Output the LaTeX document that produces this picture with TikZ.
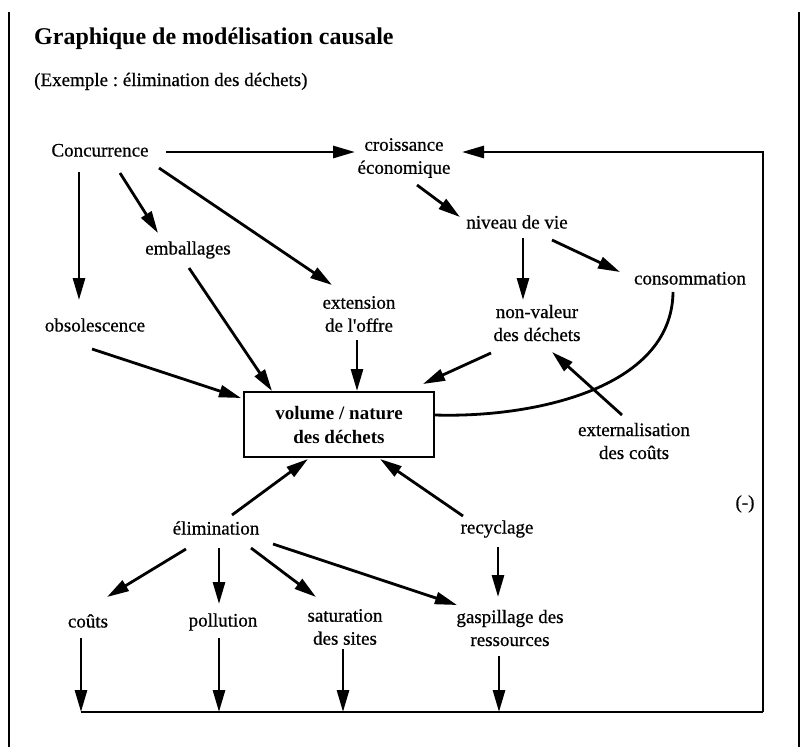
\documentclass[tikz,border=0pt]{standalone}
\usepackage{fontspec}
\setmainfont{Liberation Serif}
\newfontfamily\scanfont{Liberation Serif}[FakeBold=0.6]
\usetikzlibrary{arrows.meta}
\frenchspacing
\begin{document}
\begin{tikzpicture}[x=1pt,y=-1pt,
  lbl/.style={inner sep=0pt, font=\scanfont\fontsize{19}{23}\selectfont, align=center},
  one/.style={text height=13pt, text depth=4pt},
  arr/.style={line width=2.8pt, -{Triangle[length=22pt,width=12pt]}},
  ln/.style={line width=2.8pt},
  frame/.style={line width=1.8pt}]
\useasboundingbox (0,0) rectangle (810,747);
\fill[white] (0,0) rectangle (810,747);
\draw[frame] (9,12) -- (9,747);
\draw[frame] (799,12) -- (799,747);

% texts
\node[anchor=base west, inner sep=0pt, font=\fontsize{24}{28}\selectfont\bfseries] (title) at (34,44) {Graphique de modélisation causale};
\node[anchor=base west, inner sep=0pt, font=\scanfont\fontsize{19}{23}\selectfont] (sub) at (34,86) {(Exemple : élimination des déchets)};

\node[lbl, one] (conc) at (100,152) {Concurrence};
\node[lbl] (crois) at (404,158) {croissance\\économique};
\node[lbl, one] (niv) at (517,224) {niveau de vie};
\node[lbl, one] (emb) at (188,250) {emballages};
\node[lbl, one] (cons) at (690,280) {consommation};
\node[lbl] (ext) at (359,314) {extension\\de l\textquotesingle offre};
\node[lbl] (nonv) at (537,323) {non-valeur\\des déchets};
\node[lbl, one] (obs) at (95,327) {obsolescence};
\node[draw, line width=2.6pt, minimum width=190pt, minimum height=65pt, inner sep=0pt,
      font=\fontsize{19}{24}\selectfont\bfseries, align=center] (box) at (339,424.5) {volume / nature\\des déchets};
\node[lbl] (extern) at (634,441) {externalisation\\des coûts};
\node[lbl, one] (minus) at (745,504) {(-)};
\node[lbl, one] (elim) at (216,530) {élimination};
\node[lbl, one] (recy) at (497,529) {recyclage};
\node[lbl, one] (couts) at (88,623) {coûts};
\node[lbl, one] (poll) at (223,622) {pollution};
\node[lbl] (satur) at (345,627) {saturation\\des sites};
\node[lbl] (gasp) at (510,628) {gaspillage des\\ressources};

% bus coordinates
\coordinate (b1) at (81,712);
\coordinate (b2) at (219,712);
\coordinate (b3) at (343,712);
\coordinate (b4) at (499,712);
\coordinate (bR) at (763,712);
\coordinate (bT) at (763,152);

% connectors
\draw[arr] ([shift={(66,0)}]conc.center) -- ([shift={(-49,-6)}]crois.center);
\draw[ln] (b1) -- (bR);
\draw[arr] (bR) -- (bT) -- ([shift={(58,-6)}]crois.center);
\draw[arr] ([shift={(-21,20)}]conc.center) -- ([shift={(-16,-27)}]obs.center);
\draw[arr] ([shift={(20,21)}]conc.center) -- ([shift={(-30,-17)}]emb.center);
\draw[arr] ([shift={(59,16)}]conc.center) -- ([shift={(-27,-29)}]ext.center);
\draw[arr] ([shift={(13,27)}]crois.center) -- ([shift={(-57,-7)}]niv.center);
\draw[arr] ([shift={(6,14)}]niv.center) -- ([shift={(-14,-23)}]nonv.center);
\draw[arr] ([shift={(35,16)}]niv.center) -- ([shift={(-70,-8)}]cons.center);
\draw[arr] ([shift={(1,18)}]emb.center) -- ([shift={(-67,-33.5)}]box.center);
\draw[arr] ([shift={(-2,26)}]ext.center) -- ([shift={(18,-33.5)}]box.center);
\draw[arr] ([shift={(-3,22)}]obs.center) -- ([shift={(-98,-26.5)}]box.center);
\draw[arr] ([shift={(-46,30)}]nonv.center) -- ([shift={(84,-40.5)}]box.center);
\draw[ln] ([shift={(-17,12)}]cons.center) .. controls ([shift={(-18,110)}]cons.center) and ([shift={(-160,138)}]cons.center) .. ([shift={(96,-9.5)}]box.center);
\draw[arr] ([shift={(-12,-26)}]extern.center) -- ([shift={(15,29)}]nonv.center);
\draw[arr] ([shift={(16,-15)}]elim.center) -- ([shift={(-31,34.5)}]box.center);
\draw[arr] ([shift={(-34,-13)}]recy.center) -- ([shift={(41,34.5)}]box.center);
\draw[arr] ([shift={(-30,19)}]elim.center) -- ([shift={(19,-26)}]couts.center);
\draw[arr] ([shift={(3,18)}]elim.center) -- ([shift={(-4,-18)}]poll.center);
\draw[arr] ([shift={(35,18)}]elim.center) -- ([shift={(-29,-30)}]satur.center);
\draw[arr] ([shift={(57,14)}]elim.center) -- ([shift={(-53,-23)}]gasp.center);
\draw[arr] ([shift={(1,18)}]recy.center) -- ([shift={(-12,-31)}]gasp.center);
\draw[arr] ([shift={(-7,15)}]couts.center) -- (b1);
\draw[arr] ([shift={(-4,16)}]poll.center) -- (b2);
\draw[arr] ([shift={(-2,22)}]satur.center) -- (b3);
\draw[arr] ([shift={(-11,28)}]gasp.center) -- (b4);
\end{tikzpicture}
\end{document}
